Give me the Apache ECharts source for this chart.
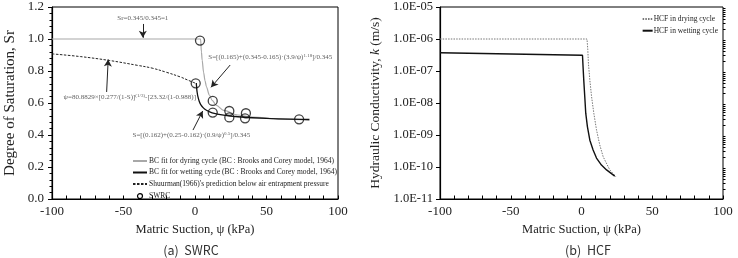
<!DOCTYPE html>
<html>
<head>
<meta charset="utf-8">
<script src="https://cdn.jsdelivr.net/npm/echarts@6/dist/echarts.min.js"></script>
<style>
  html, body { margin: 0; padding: 0; background: #fff; }
  #chart { width: 738px; height: 258px; }
</style>
</head>
<body>
<div id="chart"></div>
<script>
// (a) SWRC - measured points
const swrcPsi = [3.5, 0.5, 12.4, 12.4, 24, 24, 35.6, 35, 72.8]
const swrcSr = [0.99, 0.723, 0.613, 0.54, 0.55, 0.51, 0.536, 0.504, 0.498]

// BC fit, drying cycle
const dryPsi = [-100, 3.9, 4.5, 5, 6, 7, 8, 10, 12, 15, 20, 30, 40, 60, 80]
const drySr = [1.0, 1.0, 0.919, 0.868, 0.792, 0.74, 0.701, 0.65, 0.617, 0.585, 0.554, 0.525, 0.512, 0.499, 0.493]

// BC fit, wetting cycle
const wetPsi = [0.9, 1.2, 1.5, 2, 3, 4, 6, 8, 12, 20, 30, 50, 80]
const wetSr = [0.725, 0.69, 0.667, 0.641, 0.609, 0.59, 0.568, 0.555, 0.539, 0.524, 0.514, 0.504, 0.497]

// Shuurman (1966) prediction
const shPsi = [-100, -80, -60, -40, -30, -20, -10, -5, 0.5]
const shSr = [0.907, 0.89, 0.866, 0.835, 0.818, 0.792, 0.762, 0.743, 0.723]

// (b) HCF
const hcfDryPsi = [-100, 3.9, 4.45, 4.9, 5.9, 7.1, 8.7, 10.6, 12.9, 15.3, 20, 24.2]
const hcfDryK = [1e-6, 1e-6, 4.6e-7, 1.7e-7, 5.2e-8, 1.6e-8, 4.8e-9, 1.45e-9, 4.9e-10, 2.1e-10, 8.1e-11, 5.0e-11]
const hcfWetPsi = [-100, 0.7, 1.1, 1.6, 2.3, 3.0, 4.2, 5.9, 8.2, 10.6, 14.1, 17.7, 23.5]
const hcfWetK = [3.7e-7, 3.1e-7, 1.35e-7, 5.2e-8, 1.6e-8, 4.8e-9, 1.8e-9, 6.9e-10, 3.4e-10, 1.9e-10, 1.15e-10, 8.1e-11, 5.2e-11]

// tick labels
const srTicks = [0, 0.2, 0.4, 0.6, 0.8, 1.0, 1.2]
const kTicks = [1e-11, 1e-10, 1e-9, 1e-8, 1e-7, 1e-6, 1e-5]

// annotations on (a): text position and arrows [from, to]
const noteText = [
  '{t|Sr=0.345/0.345=1}',
  '{t|S=[(0.165)+(0.345-0.165)·(3.9/ψ)}{s|1.18}{t|]/0.345}',
  '{t|ψ=80.8829×[0.277/(1-S)]}{s|(1/3)}{t|-[23.32/(1-0.988)]}',
  '{t|S=[(0.162)+(0.25-0.162)·(0.9/ψ)}{s|0.5}{t|]/0.345}'
]
const notePos = [[-36.5, 1.131], [52.6, 0.886], [-45.6, 0.636], [-2.5, 0.4]]
const arrows = [
  [[-36.5, 1.094], [-36.5, 1.008]],
  [[24.6, 0.8375], [11.2, 0.698]],
  [[-61.8, 0.669], [-60.7, 0.872]],
  [[-1.4, 0.431], [5.4, 0.55]]
]

const SERIF = 'Liberation Serif'
const zip = (xs, ys) => xs.map((x, i) => [x, ys[i]])

const kMinor = []
kTicks.slice(0, -1).forEach(d => {
  for (let m = 2; m <= 9; m++) kMinor.push(m * d)
})

const xAxisBase = gi => ({
  type: 'value',
  gridIndex: gi,
  min: -100,
  max: 100,
  interval: 50,
  name: 'Matric Suction, ψ (kPa)',
  nameLocation: 'middle',
  nameGap: 24,
  nameTextStyle: { fontFamily: SERIF, fontSize: 12.5, color: '#222' },
  axisLine: { onZero: false, lineStyle: { color: '#000', width: 1.2 } },
  axisTick: { inside: true, length: 3.5, lineStyle: { color: '#000' } },
  minorTick: { show: true, splitNumber: 5, length: 3.5, lineStyle: { color: '#000' } },
  axisLabel: { fontFamily: SERIF, fontSize: 13, color: '#222', margin: 6 },
  splitLine: { show: false }
})

const chart = echarts.init(document.getElementById('chart'))
chart.setOption({
  animation: false,
  grid: [
    { left: 52, top: 7, width: 286, height: 192, show: true, borderColor: '#000', borderWidth: 1 },
    { left: 440, top: 7, width: 283, height: 192, show: true, borderColor: '#000', borderWidth: 1 }
  ],
  xAxis: [xAxisBase(0), xAxisBase(1)],
  yAxis: [
    {
      type: 'value',
      gridIndex: 0,
      min: 0,
      max: 1.2,
      interval: 0.2,
      name: 'Degree of Saturation, Sr',
      nameLocation: 'middle',
      nameGap: 34,
      nameTextStyle: { fontFamily: SERIF, fontSize: 15, color: '#222' },
      axisLine: { show: true, onZero: false, lineStyle: { color: '#000', width: 1.2 } },
      axisTick: { show: true, length: 4, lineStyle: { color: '#000' } },
      minorTick: { show: true, splitNumber: 5, length: 2.5, lineStyle: { color: '#000' } },
      axisLabel: {
        fontFamily: SERIF, fontSize: 13, color: '#222', margin: 8,
        customValues: srTicks,
        formatter: v => v.toFixed(1)
      },
      splitLine: { show: false }
    },
    {
      type: 'log',
      logBase: 10,
      gridIndex: 1,
      min: 1e-11,
      max: 1e-5,
      name: 'Hydraulic Conductivity, {i|k} (m/s)',
      nameLocation: 'middle',
      nameGap: 58,
      nameTextStyle: {
        fontFamily: SERIF, fontSize: 13.5, color: '#222',
        rich: { i: { fontFamily: SERIF, fontSize: 13.5, fontStyle: 'italic', color: '#222' } }
      },
      axisLine: { show: true, onZero: false, lineStyle: { color: '#000', width: 1.2 } },
      axisTick: { show: true, length: 4, customValues: kTicks, lineStyle: { color: '#000' } },
      axisLabel: {
        fontFamily: SERIF, fontSize: 12.5, color: '#222', margin: 7,
        customValues: kTicks,
        formatter: v => '1.0E-' + String(-Math.round(Math.log10(v))).padStart(2, '0')
      },
      splitLine: { show: false }
    },
    {
      // log minor ticks
      type: 'log',
      logBase: 10,
      gridIndex: 1,
      min: 1e-11,
      max: 1e-5,
      axisLine: { show: false, onZero: false },
      axisTick: { show: true, length: 2.5, customValues: kMinor, lineStyle: { color: '#000' } },
      axisLabel: { show: false },
      splitLine: { show: false }
    }
  ],
  legend: [
    {
      left: 127,
      top: 152,
      orient: 'vertical',
      itemWidth: 14,
      itemHeight: 8,
      itemGap: 3.5,
      itemStyle: { opacity: 0 },
      textStyle: { fontFamily: SERIF, fontSize: 7.5, color: '#222', padding: [0, 0, 0, -3] },
      data: [
        { name: 'BC fit for dyring cycle (BC : Brooks and Corey model, 1964)' },
        { name: 'BC fit for wetting cycle (BC : Brooks and Corey model, 1964)' },
        { name: "Shuurman(1966)'s prediction below air entrapment pressure" },
        {
          name: 'SWRC',
          icon: 'path://M0,0M14,8M9.5,4A2.5,2.5,0,1,1,4.5,4A2.5,2.5,0,1,1,9.5,4Z',
          itemStyle: { opacity: 1, color: '#fff', borderColor: '#000', borderWidth: 1.2 }
        }
      ]
    },
    {
      right: 15,
      top: 10,
      orient: 'vertical',
      itemWidth: 10,
      itemHeight: 7,
      itemGap: 3.7,
      align: 'left',
      itemStyle: { opacity: 0 },
      textStyle: { fontFamily: SERIF, fontSize: 7.5, color: '#222', padding: [0, 0, 0, -4] },
      data: ['HCF in drying cycle', 'HCF in wetting cycle']
    }
  ],
  series: [
    {
      name: 'BC fit for dyring cycle (BC : Brooks and Corey model, 1964)',
      type: 'line',
      xAxisIndex: 0,
      yAxisIndex: 0,
      smooth: 0.3,
      smoothMonotone: 'x',
      symbol: 'none',
      lineStyle: { color: '#a8a8a8', width: 1.2 },
      itemStyle: { color: '#a8a8a8' },
      data: zip(dryPsi, drySr),
      z: 2
    },
    {
      name: 'BC fit for wetting cycle (BC : Brooks and Corey model, 1964)',
      type: 'line',
      xAxisIndex: 0,
      yAxisIndex: 0,
      smooth: 0.3,
      symbol: 'none',
      lineStyle: { color: '#111', width: 1.3 },
      itemStyle: { color: '#111' },
      data: zip(wetPsi, wetSr),
      z: 3
    },
    {
      name: "Shuurman(1966)'s prediction below air entrapment pressure",
      type: 'line',
      xAxisIndex: 0,
      yAxisIndex: 0,
      smooth: 0.4,
      symbol: 'none',
      lineStyle: { color: '#222', width: 1, type: [2.5, 1.5] },
      itemStyle: { color: '#222' },
      data: zip(shPsi, shSr),
      z: 3
    },
    {
      name: 'SWRC',
      type: 'scatter',
      xAxisIndex: 0,
      yAxisIndex: 0,
      symbol: 'circle',
      symbolSize: 9,
      itemStyle: { color: 'rgba(255,255,255,0)', borderColor: '#111', borderWidth: 1.3 },
      data: zip(swrcPsi, swrcSr),
      z: 5
    },
    {
      name: 'notes',
      type: 'scatter',
      xAxisIndex: 0,
      yAxisIndex: 0,
      symbolSize: 0,
      silent: true,
      label: {
        show: true,
        position: 'inside',
        formatter: p => noteText[p.dataIndex],
        rich: {
          t: { fontFamily: SERIF, fontSize: 7, color: '#333' },
          s: { fontFamily: SERIF, fontSize: 5, color: '#333', verticalAlign: 'top', padding: [0, 0, 3, 0] }
        }
      },
      data: notePos,
      z: 6
    },
    {
      name: 'arrows',
      type: 'line',
      xAxisIndex: 0,
      yAxisIndex: 0,
      data: [],
      markLine: {
        silent: true,
        symbol: ['none', 'arrow'],
        symbolSize: [6, 7],
        label: { show: false },
        lineStyle: { color: '#222', width: 1, type: 'solid' },
        data: arrows.map(([a, b]) => [{ coord: a }, { coord: b }])
      }
    },
    {
      name: 'HCF in drying cycle',
      type: 'line',
      xAxisIndex: 1,
      yAxisIndex: 1,
      symbol: 'none',
      lineStyle: { color: '#777', width: 1, type: [1.5, 1.2] },
      itemStyle: { color: '#777' },
      data: zip(hcfDryPsi, hcfDryK)
    },
    {
      name: 'HCF in wetting cycle',
      type: 'line',
      xAxisIndex: 1,
      yAxisIndex: 1,
      symbol: 'none',
      lineStyle: { color: '#111', width: 1.4 },
      itemStyle: { color: '#111' },
      data: zip(hcfWetPsi, hcfWetK)
    }
  ],
  graphic: [
    {
      type: 'text', x: 191, y: 250,
      style: { text: '(a)  SWRC', fontFamily: 'Noto Sans CJK KR', fontSize: 12.5, fill: '#333', align: 'center', verticalAlign: 'middle' }
    },
    {
      type: 'text', x: 588, y: 250,
      style: { text: '(b)  HCF', fontFamily: 'Noto Sans CJK KR', fontSize: 12.5, fill: '#333', align: 'center', verticalAlign: 'middle' }
    }
  ]
})
</script>
</body>
</html>
